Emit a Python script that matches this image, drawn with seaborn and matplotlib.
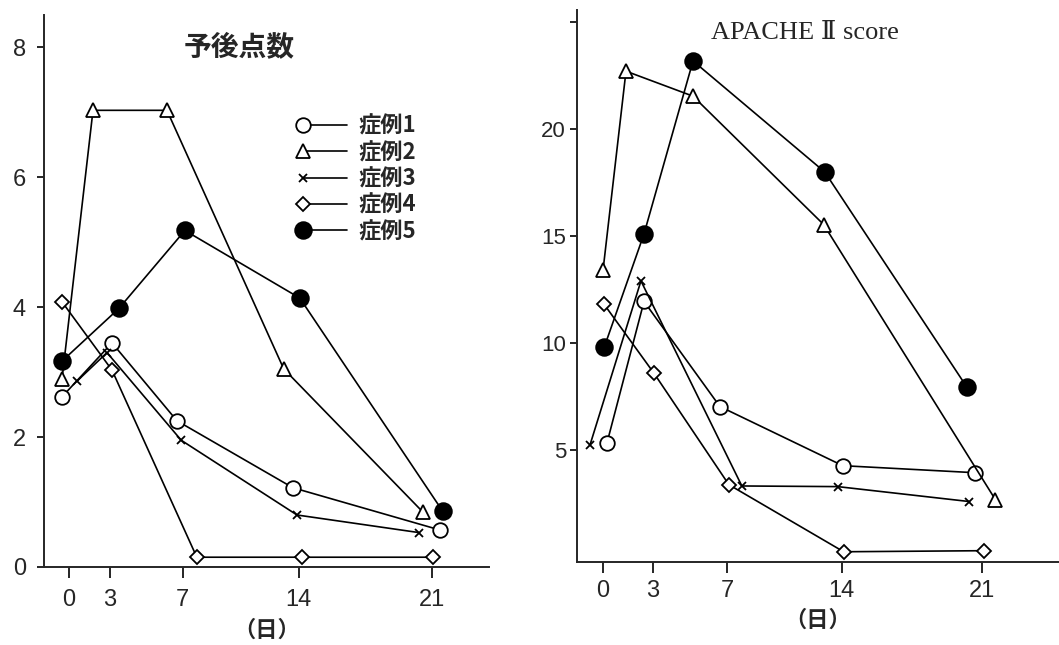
import numpy as np
import pandas as pd
import matplotlib
matplotlib.use("Agg")
import matplotlib.pyplot as plt
import seaborn as sns
from matplotlib.legend_handler import HandlerLine2DCompound

# Case labels
cases = ["症例1", "症例2", "症例3", "症例4", "症例5"]

# Left panel: prognosis score (予後点数), x = day as placed in the scan
prog_day1 = [-0.40, 2.49, 6.25, 12.96, 21.46]
prog_val1 = [2.62, 3.45, 2.25, 1.22, 0.57]
prog_day2 = [-0.40, 1.39, 5.67, 12.43, 20.47]
prog_val2 = [2.90, 7.03, 7.03, 3.05, 0.85]
prog_day3 = [0.46, 2.20, 6.50, 13.20, 20.24]
prog_val3 = [2.86, 3.30, 1.95, 0.80, 0.53]
prog_day4 = [-0.40, 2.49, 7.40, 13.48, 21.05]
prog_val4 = [4.08, 3.03, 0.15, 0.15, 0.15]
prog_day5 = [-0.40, 2.89, 6.71, 13.36, 21.63]
prog_val5 = [3.17, 3.98, 5.18, 4.14, 0.86]

# Right panel: APACHE II score
apache_day1 = [0.22, 2.27, 6.48, 13.30, 20.66]
apache_val1 = [5.33, 11.94, 7.02, 4.25, 3.92]
apache_day2 = [0.00, 1.27, 4.99, 12.24, 21.77]
apache_val2 = [13.43, 22.72, 21.55, 15.54, 2.66]
apache_day3 = [-0.72, 2.10, 7.70, 13.02, 20.33]
apache_val3 = [5.24, 12.90, 3.30, 3.27, 2.57]
apache_day4 = [0.06, 2.83, 6.98, 13.35, 21.16]
apache_val4 = [11.80, 8.57, 3.36, 0.22, 0.27]
apache_day5 = [0.06, 2.27, 4.99, 12.30, 20.17]
apache_val5 = [9.79, 15.10, 23.20, 18.00, 7.95]

# Day ticks (positions as drawn in the original figure)
day_labels = ["0", "3", "7", "14", "21"]
left_tick_pos = [0, 2.37, 6.59, 13.3, 21]
right_tick_pos = [0, 2.77, 6.87, 13.24, 21]

prog_days = [prog_day1, prog_day2, prog_day3, prog_day4, prog_day5]
prog_vals = [prog_val1, prog_val2, prog_val3, prog_val4, prog_val5]
apache_days = [apache_day1, apache_day2, apache_day3, apache_day4, apache_day5]
apache_vals = [apache_val1, apache_val2, apache_val3, apache_val4, apache_val5]

# Marker style per case
markers = {
    "症例1": dict(marker="o", markersize=10.5, markerfacecolor="white"),
    "症例2": dict(marker="^", markersize=10.5, markerfacecolor="white"),
    "症例3": dict(marker="x", markersize=5.5, markerfacecolor="none"),
    "症例4": dict(marker="D", markersize=7, markerfacecolor="white"),
    "症例5": dict(marker="o", markersize=12, markerfacecolor="black"),
}

sns.set_style("ticks")
plt.rcParams["font.family"] = ["Liberation Sans", "Noto Sans CJK JP", "DejaVu Sans"]
plt.rcParams["axes.linewidth"] = 1.4

cjk = ["Noto Sans CJK JP"]


class MarkerLeftHandler(HandlerLine2DCompound):
    # marker at the left end of the legend line, like the original
    def get_xdata(self, legend, xdescent, ydescent, width, height, fontsize):
        xdata = np.array([-xdescent, -xdescent + width], float)
        return xdata, np.array([-xdescent], float)


def draw_cases(ax, days, vals):
    for case, d, v in zip(cases, days, vals):
        df = pd.DataFrame({"day": d, "value": v})
        sns.lineplot(data=df, x="day", y="value", ax=ax, color="black",
                     linewidth=1.2, markeredgecolor="black", markeredgewidth=1.3,
                     sort=False, estimator=None, label=case, **markers[case])


fig = plt.figure(figsize=(10.59, 6.45), dpi=100)
ax1 = fig.add_axes([0.0415, 0.121, 0.42, 0.856])
ax2 = fig.add_axes([0.545, 0.129, 0.455, 0.856])

draw_cases(ax1, prog_days, prog_vals)
draw_cases(ax2, apache_days, apache_vals)

# Left panel
ax1.set_xlim(-1.45, 24.3)
ax1.set_ylim(0, 8.5)
ax1.set_yticks([0, 2, 4, 6, 8])
ax1.set_xticks(left_tick_pos)
ax1.set_xticklabels(day_labels)
ax1.tick_params(axis="y", labelsize=17, length=5, width=1.2, pad=8, color="black")
ax1.tick_params(axis="x", labelsize=17, length=8, width=1.2, pad=8, color="black")
ax1.set_ylabel("")
ax1.set_xlabel("（日）", fontsize=16, fontweight="bold", family=cjk)
ax1.xaxis.set_label_coords(0.50, -0.093)
ax1.text(0.44, 0.942, "予後点数", transform=ax1.transAxes, ha="center", va="center",
         fontsize=20, fontweight="bold", family=cjk)
handles, labels = ax1.get_legend_handles_labels()
ax1.legend(handles, labels, loc="upper left", bbox_to_anchor=(0.582, 0.819),
           frameon=False, handlelength=2.0, handletextpad=0.5,
           labelspacing=0.15, borderpad=0, borderaxespad=0,
           handler_map={h: MarkerLeftHandler() for h in handles},
           prop={"family": cjk, "weight": "bold", "size": 16})

# Right panel
ax2.set_xlim(-1.44, 25.3)
ax2.set_ylim(-0.25, 25.6)
ax2.set_yticks([5, 10, 15, 20, 25])
ax2.set_yticklabels(["5", "10", "15", "20", ""])
ax2.set_xticks(right_tick_pos)
ax2.set_xticklabels(day_labels)
ax2.tick_params(axis="y", labelsize=16, length=5, width=1.2, pad=3, color="black")
ax2.tick_params(axis="x", labelsize=17, length=8, width=1.2, pad=5, color="black")
ax2.set_ylabel("")
ax2.set_xlabel("（日）", fontsize=16, fontweight="bold", family=cjk)
ax2.xaxis.set_label_coords(0.50, -0.085)
ax2.text(0.473, 0.958, "APACHE Ⅱ score", transform=ax2.transAxes, ha="center", va="center",
         fontsize=19, family=["Liberation Serif", "DejaVu Serif", "Noto Sans CJK JP"])
ax2.get_legend().remove()

for ax in (ax1, ax2):
    sns.despine(ax=ax)

fig.savefig("out.png", dpi=100)
